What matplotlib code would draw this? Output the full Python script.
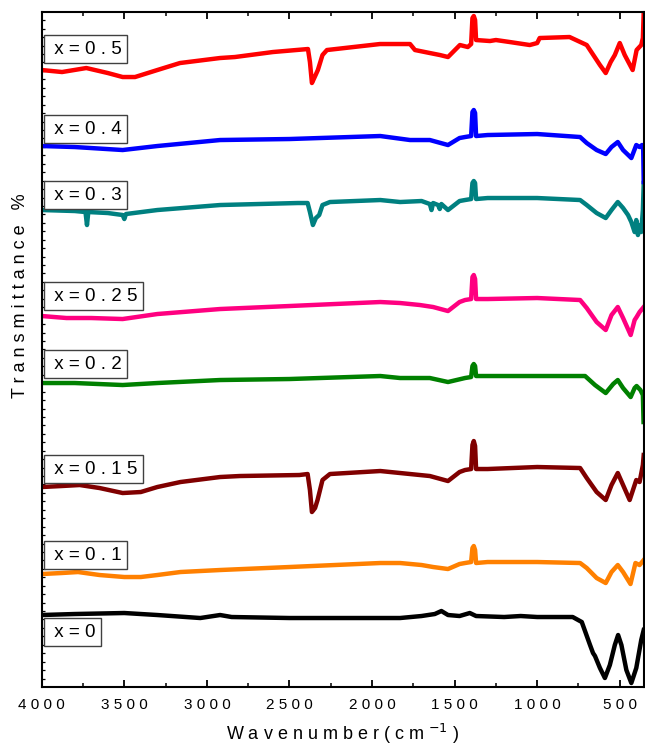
import numpy as np
import matplotlib
matplotlib.use("Agg")
import matplotlib.pyplot as plt
from matplotlib.ticker import MultipleLocator, FuncFormatter

plt.rcParams['font.family'] = ['Liberation Sans', 'DejaVu Sans']

# FTIR spectra (wavenumber cm-1, transmittance in arbitrary offset units)
wn_0 = [4000, 3800, 3500, 3300, 3040, 2920, 2850, 2500, 2000, 1830, 1700, 1620, 1580, 1540, 1470, 1408, 1370,
        1200, 1100, 1000, 785, 730, 680, 662, 650, 620, 590, 560, 530, 510, 490, 460, 430, 400, 370, 355]
t_0 = [72, 73, 74, 72, 69, 72, 70, 69, 69, 69, 71, 73, 76, 72, 71, 74, 71,
       70, 71, 70, 70, 65, 42, 34, 31, 19, 9, 22, 42, 52, 42, 17, 4, 19, 47, 57]

wn_01 = [4000, 3880, 3780, 3650, 3500, 3400, 3300, 3160, 2920, 2500, 1950, 1830, 1700, 1630, 1540, 1470, 1437,
         1400, 1392, 1384, 1376, 1370, 1300, 1000, 740, 700, 640, 585, 550, 512, 480, 435, 405, 380, 355]
t_01 = [113, 114, 115, 112, 110, 110, 112, 115, 117, 120, 124, 124, 122, 120, 118, 123, 124,
        125, 139, 141, 137, 124, 125, 125, 124, 119, 109, 104, 115, 122, 115, 103, 124, 122, 127]

wn_015 = [4000, 3880, 3770, 3650, 3510, 3400, 3300, 3160, 2920, 2800, 2440, 2390, 2376, 2364, 2345, 2330, 2300,
          2255, 1950, 1830, 1650, 1540, 1470, 1437, 1400, 1392, 1384, 1376, 1370, 1300, 1000, 740, 700, 640,
          585, 550, 512, 480, 440, 420, 400, 380, 360, 355]
t_015 = [200, 201, 202, 199, 194, 195, 200, 205, 210, 211, 212, 213, 197, 175, 179, 187, 207,
         213, 216, 214, 211, 206, 215, 217, 218, 242, 246, 241, 218, 218, 220, 219, 209, 195,
         187, 202, 214, 202, 187, 197, 207, 205, 222, 232]

wn_02 = [4000, 3800, 3510, 3300, 2920, 2500, 1950, 1830, 1650, 1540, 1437, 1400, 1392, 1384, 1376, 1370, 1300,
         1000, 710, 650, 585, 540, 512, 480, 434, 410, 398, 375, 360, 356]
t_02 = [304, 304, 302, 304, 307, 308, 311, 309, 309, 305, 309, 310, 321, 323, 321, 311, 311,
        311, 311, 302, 294, 303, 307, 299, 290, 299, 301, 297, 292, 265]

wn_025 = [4000, 3850, 3700, 3510, 3300, 2920, 2500, 1950, 1830, 1710, 1630, 1540, 1470, 1437, 1400, 1392, 1384,
          1376, 1370, 1300, 1000, 740, 700, 640, 585, 550, 512, 480, 434, 410, 398, 380, 355]
t_025 = [371, 369, 369, 368, 373, 378, 381, 385, 384, 382, 380, 376, 385, 387, 388, 410, 412,
         408, 388, 388, 389, 387, 379, 365, 357, 372, 380, 369, 352, 367, 370, 375, 380]

wn_03 = [4000, 3800, 3735, 3726, 3718, 3600, 3510, 3500, 3490, 3300, 2920, 2450, 2390, 2376, 2358, 2340, 2320,
         2300, 2255, 1950, 1830, 1700, 1650, 1640, 1630, 1600, 1590, 1580, 1540, 1470, 1437, 1400, 1392, 1384,
         1376, 1370, 1300, 1000, 740, 700, 640, 585, 550, 512, 480, 450, 430, 410, 400, 390, 380, 370, 360, 355]
t_03 = [477, 476, 475, 462, 475, 474, 472, 468, 473, 477, 482, 484, 484, 475, 462, 469, 472,
        482, 485, 487, 485, 486, 483, 477, 484, 482, 478, 483, 477, 486, 487, 488, 504, 506,
        504, 488, 489, 489, 487, 482, 474, 469, 477, 485, 479, 472, 465, 455, 467, 452, 462, 455, 477, 504]

wn_04 = [4000, 3800, 3510, 3300, 2920, 2500, 1950, 1770, 1650, 1540, 1470, 1437, 1400, 1392, 1384, 1376, 1370,
         1300, 1000, 740, 700, 640, 585, 550, 512, 480, 430, 400, 380, 365, 358, 355]
t_04 = [541, 540, 537, 541, 547, 548, 551, 547, 547, 542, 549, 550, 551, 575, 577, 574, 551,
        552, 553, 550, 544, 537, 533, 540, 545, 537, 529, 542, 540, 542, 537, 505]

wn_05 = [4000, 3877, 3730, 3600, 3510, 3435, 3300, 3163, 2921, 2830, 2600, 2388, 2376, 2364, 2350, 2328, 2300,
         2273, 1952, 1770, 1740, 1650, 1589, 1540, 1468, 1420, 1400, 1392, 1384, 1376, 1370, 1286, 1250, 1166,
         1045, 1000, 985, 804, 700, 620, 585, 555, 530, 500, 470, 422, 398, 370, 360, 355]
t_05 = [617, 615, 619, 614, 610, 610, 617, 624, 629, 630, 635, 638, 625, 604, 609, 617, 632,
        637, 643, 643, 637, 634, 632, 630, 642, 640, 643, 669, 671, 667, 647, 646, 647, 645,
        642, 644, 649, 650, 642, 622, 614, 625, 632, 644, 632, 617, 637, 642, 649, 675]

names = ['x=0', 'x=0.1', 'x=0.15', 'x=0.2', 'x=0.25', 'x=0.3', 'x=0.4', 'x=0.5']
wns = [wn_0, wn_01, wn_015, wn_02, wn_025, wn_03, wn_04, wn_05]
ts = [t_0, t_01, t_015, t_02, t_025, t_03, t_04, t_05]
colors = ['black', '#ff8000', '#800000', '#008000', '#ff0080', '#008080', '#0000ff', '#ff0000']
label_y = [55, 132, 218, 323, 391, 492, 558, 638]


def spaced(s):
    return " ".join(s)


fig = plt.figure(figsize=(6.45, 7.47), dpi=100)
ax = fig.add_axes([0.0647, 0.0803, 0.9333, 0.9036])

for wn, t, c in zip(wns, ts, colors):
    ax.plot(wn, t, color=c, lw=3.2, solid_joinstyle='round')

for name, ly in zip(names, label_y):
    ax.text(3955, ly, " " + spaced(name), fontsize=13.5, va='center', ha='left', zorder=5,
            bbox=dict(boxstyle='square,pad=0.28', fc='white', ec='#404040', lw=1.0))

ax.set_xlim(4000, 355)
ax.set_ylim(0, 675)
ax.xaxis.set_major_locator(MultipleLocator(500))
ax.xaxis.set_minor_locator(MultipleLocator(250))
ax.xaxis.set_major_formatter(FuncFormatter(lambda v, p: spaced(str(int(v)))))
ax.yaxis.set_major_locator(MultipleLocator(675))
ax.yaxis.set_minor_locator(MultipleLocator(8.44))
ax.set_yticklabels([])
ax.tick_params(axis='x', which='major', direction='in', length=5, width=1.3, top=True, labelsize=11, pad=8)
ax.tick_params(axis='x', which='minor', direction='in', length=3, width=1.1, top=True)
ax.tick_params(axis='y', which='major', direction='in', length=0, labelleft=False)
ax.tick_params(axis='y', which='minor', direction='in', length=2, width=0.9)
for s in ax.spines.values():
    s.set_linewidth(1.5)

ax.set_xlabel("W a v e n u m b e r ( c m $^{-1}$ )", fontsize=13, labelpad=7)
ax.set_ylabel(spaced("Transmittance %"), fontsize=13)
ax.yaxis.set_label_coords(-0.021, 0.58)

fig.savefig("out.png", dpi=100)
